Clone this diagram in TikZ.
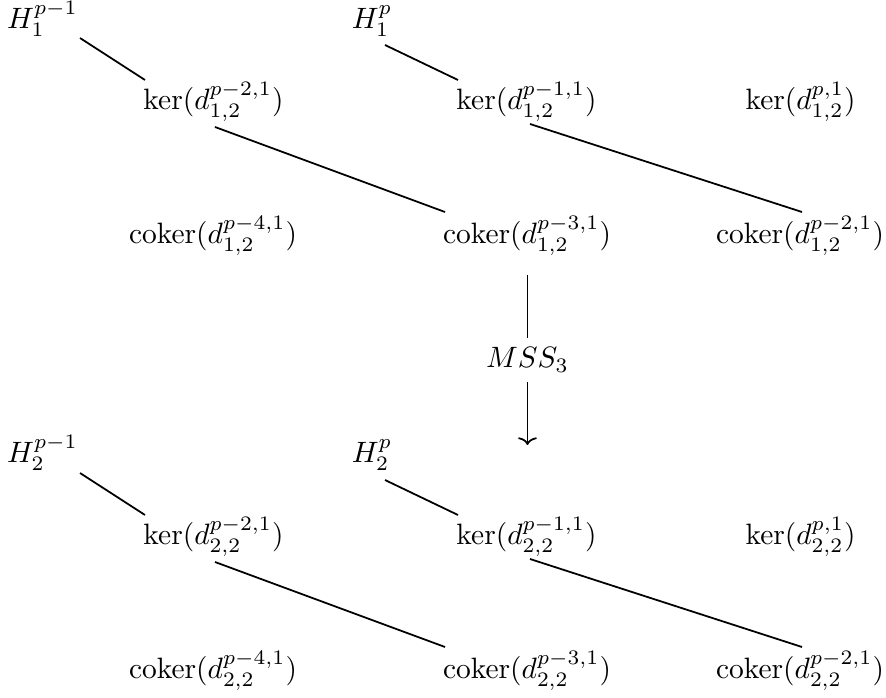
\documentclass[tikz,border=0pt]{standalone}
\usetikzlibrary{arrows.meta}
\begin{document}
\begin{tikzpicture}[x=0.3395pt,y=-0.3395pt,
  term/.style={inner sep=0pt,anchor=base},
  link/.style={line width=0.6pt},
  mapto/.style={line width=0.6pt,-{Computer Modern Rightarrow[length=2.6pt,width=6.4pt]}}]
\useasboundingbox (0,0) rectangle (886,698);

% first page (index 1)
\node[term] (H1a) at (42.5,29)  {$H_1^{p-1}$};
\node[term] (H1b) at (372,29)   {$H_1^{p}$};
\node[term] (K1a) at (213.5,110) {$\ker(d_{1,2}^{p-2,1})$};
\node[term] (K1b) at (526.5,110) {$\ker(d_{1,2}^{p-1,1})$};
\node[term] (K1c) at (800.5,110) {$\ker(d_{1,2}^{p,1})$};
\node[term] (C1a) at (213,244) {$\mathrm{coker}(d_{1,2}^{p-4,1})$};
\node[term] (C1b) at (527,244) {$\mathrm{coker}(d_{1,2}^{p-3,1})$};
\node[term] (C1c) at (800,244) {$\mathrm{coker}(d_{1,2}^{p-2,1})$};

% second page (index 2)
\node[term] (H2a) at (42.5,463)  {$H_2^{p-1}$};
\node[term] (H2b) at (372,463)   {$H_2^{p}$};
\node[term] (K2a) at (213.5,545) {$\ker(d_{2,2}^{p-2,1})$};
\node[term] (K2b) at (526.5,545) {$\ker(d_{2,2}^{p-1,1})$};
\node[term] (K2c) at (800.5,545) {$\ker(d_{2,2}^{p,1})$};
\node[term] (C2a) at (213,679) {$\mathrm{coker}(d_{2,2}^{p-4,1})$};
\node[term] (C2b) at (527,679) {$\mathrm{coker}(d_{2,2}^{p-3,1})$};
\node[term] (C2c) at (800,679) {$\mathrm{coker}(d_{2,2}^{p-2,1})$};

% connecting segments
\draw[link] ([shift={(37.5,9)}]H1a.base) -- ([shift={(-68.5,-30)}]K1a.base);
\draw[link] ([shift={(13,16)}]H1b.base)  -- ([shift={(-68.5,-30)}]K1b.base);
\draw[link] ([shift={(37.5,10)}]H2a.base) -- ([shift={(-68.5,-30)}]K2a.base);
\draw[link] ([shift={(13,17)}]H2b.base)  -- ([shift={(-68.5,-30)}]K2b.base);
\foreach \i in {1,2}{
  \draw[link] ([shift={(1.5,17)}]K\i a.base)  -- ([shift={(-82,-32)}]C\i b.base);
  \draw[link] ([shift={(3.5,14)}]K\i b.base)  -- ([shift={(2,-32)}]C\i c.base);
}

% the map between the two pages
\coordinate (mssend) at (527.5,445);
\draw[mapto] ([shift={(0.5,31)}]C1b.base) -- (mssend)
  node[midway,fill=white,inner sep=3.33pt] {$MSS_3$};
\end{tikzpicture}
\end{document}
